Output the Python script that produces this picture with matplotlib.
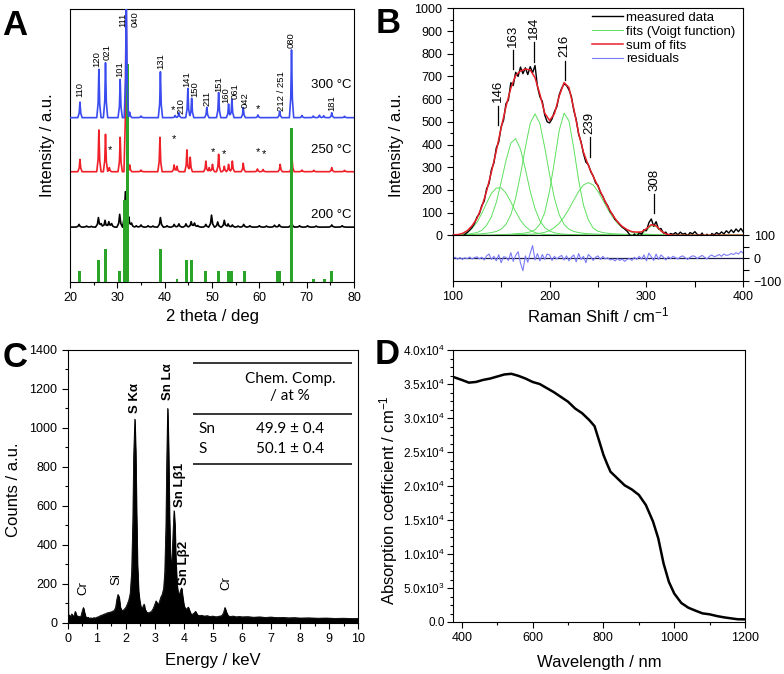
import numpy as np
import matplotlib
matplotlib.use('Agg')
import matplotlib.pyplot as plt
from matplotlib.ticker import MultipleLocator, FuncFormatter

plt.rcParams['font.family'] = ['Liberation Sans', 'DejaVu Sans']
plt.rcParams['mathtext.fontset'] = 'custom'
plt.rcParams['mathtext.rm'] = 'Liberation Sans'
plt.rcParams['mathtext.it'] = 'Liberation Sans:italic'
plt.rcParams['mathtext.bf'] = 'Liberation Sans:bold'
plt.rcParams['axes.linewidth'] = 0.8

#-------------------------------------------------------------------------------
# A : XRD patterns, peak position (deg) / height above the pattern baseline (a.u.)
xrd_300_base = 60.2
xrd_300_pos = [22.1, 26.1, 27.5, 30.6, 31.9, 32.6, 35.0, 39.1, 42.2, 43.0, 44.9, 45.7, 48.9, 51.4,
               53.5, 54.2, 56.6, 59.7, 64.3, 66.8, 69.0, 71.4, 72.7, 73.6, 75.3, 78.0]
xrd_300_int = [5.7, 17.7, 20.1, 14.0, 48.0, 2.0, 0.6, 16.8, 0.8, 1.8, 10.7, 7.1, 3.8, 9.2,
               5.0, 6.7, 3.7, 1.0, 2.4, 24.8, 0.8, 0.6, 0.9, 0.7, 1.8, 0.5]

xrd_250_base = 40.4
xrd_250_pos = [22.1, 26.1, 27.5, 28.3, 30.6, 31.85, 32.6, 35.0, 39.0, 42.0, 42.6, 44.7, 45.4, 48.7,
               49.4, 50.1, 51.4, 52.6, 53.5, 54.3, 56.6, 59.6, 60.8, 64.4, 66.9, 69.0, 71.5, 75.3, 78.0]
xrd_250_int = [4.5, 15.3, 13.7, 1.5, 12.6, 65.0, 2.5, 0.6, 12.6, 2.5, 2.0, 8.0, 5.3, 3.9,
               1.5, 2.7, 6.4, 2.0, 2.7, 3.9, 3.1, 1.0, 0.8, 2.7, 5.0, 0.6, 0.5, 1.5, 0.5]

xrd_200_base = 20.1
xrd_200_pos = [21.9, 23.5, 24.5, 26.0, 26.6, 27.4, 28.2, 28.8, 30.5, 31.7, 32.4, 33.0, 34.0, 35.0,
               36.5, 37.5, 39.1, 40.5, 42.0, 43.0, 44.5, 45.6, 46.3, 47.0, 48.7, 49.9, 51.2, 52.6,
               53.4, 54.3, 55.5, 56.7, 58.0, 60.0, 61.5, 63.2, 64.2, 66.8, 68.5, 70.2, 72.0, 75.3, 77.5]
xrd_200_int = [1.0, 0.4, 0.3, 3.5, 1.3, 2.5, 2.0, 1.3, 4.7, 13.0, 3.8, 1.5, 0.5, 0.8,
               0.5, 0.4, 3.5, 0.5, 1.0, 1.2, 1.2, 2.0, 1.5, 0.6, 1.0, 4.4, 1.9, 2.5,
               1.2, 0.8, 0.4, 1.0, 0.5, 0.5, 0.4, 0.7, 0.9, 1.8, 0.5, 0.5, 0.4, 0.8, 0.5]

# reference pattern (green bars)
ref_pos = [22.0, 26.0, 27.5, 30.4, 31.6, 32.2, 39.1, 42.6, 44.7, 45.6, 48.6, 51.3, 53.4, 54.2,
           56.8, 63.9, 64.3, 66.8, 71.4, 73.7, 75.3]
ref_int = [4.0, 8.0, 12.1, 4.0, 30.0, 80.0, 12.1, 1.0, 8.0, 8.0, 4.0, 4.0, 4.0, 4.0,
           4.0, 4.0, 4.0, 56.3, 1.0, 1.0, 4.0]

hkl_text = ['110', '120', '021', '101', '111', '040', '131', '210', '141', '150', '211', '151',
            '160', '061', '042', '212 / 251', '080', '181']
hkl_x = [22.1, 25.7, 27.8, 30.5, 31.1, 33.7, 39.2, 43.4, 44.7, 46.4, 48.9, 51.5,
         52.9, 54.8, 57.0, 64.6, 66.8, 75.3]
hkl_y = [67.9, 78.9, 81.3, 75.2, 93.3, 93.3, 78.2, 61.5, 71.5, 67.6, 64.6, 69.7,
         65.5, 66.9, 63.6, 62.8, 85.6, 62.8]

star_x = [41.7, 59.8, 28.5, 42.0, 50.1, 52.6, 59.7, 60.9]
star_y = [63.0, 63.4, 48.4, 52.3, 47.7, 46.9, 47.7, 46.9]

temp_text = ['300 °C', '250 °C', '200 °C']
temp_y = [72.2, 48.4, 24.5]

#-------------------------------------------------------------------------------
# B : Raman spectrum
raman_x = np.arange(100, 400.01, 2.5)
raman_meas = [0, -6, 2, -9, -5, 4, 12, 22, 35, 52,
              80, 94, 131, 150, 205, 228, 290, 318, 385, 410,
              478, 507, 580, 596, 672, 660, 718, 700, 741, 712,
              738, 708, 743, 716, 748, 655, 610, 590, 530, 500,
              495, 512, 545, 566, 620, 648, 667, 660, 641, 612,
              550, 510, 445, 412, 360, 322, 312, 280, 262, 231,
              220, 188, 172, 146, 131, 104, 92, 70, 61, 47,
              36, 28, 18, 4, -10, 6, -8, 12, 4, 25,
              20, 55, 72, 40, 60, 28, 30, 10, 14, -2,
              8, 4, 12, 2, 14, 5, 9, -3, 12, 6,
              16, 4, -2, 10, -10, 5, -14, 8, 2, 12,
              4, 15, 6, 20, 10, 24, 12, 28, 16, 30,
              14]
raman_resid = [-2, 4, -5, 3, -6, 2, -3, 5, -4, 2,
               6, -3, 4, -8, 10, 18, -6, 8, -12, 15,
               -20, 6, 4, -10, 24, -14, 12, 28, -22, -55,
               10, -18, 22, 55, -8, 20, -12, 16, -6, 18,
               14, -10, 8, -4, 6, 12, -8, 10, -12, 4,
               14, -16, 20, -6, 8, -20, 16, 6, -10, 4,
               10, -6, 8, -4, 2, -8, -4, -12, -2, -10,
               -4, -14, -6, -2, -10, 4, -6, 8, -4, 14,
               -12, 22, 6, -10, 18, -6, 14, 4, -8, 6,
               -2, 8, 2, -4, 6, 10, 2, -6, 4, 10,
               8, -2, 6, 12, 4, -4, 8, 14, 6, 10,
               16, 8, 18, 12, 14, 20, 16, 24, 18, 30,
               22]

# Voigt fits, sampled every 5 cm-1 from the given start
fit_x = np.arange(100, 400.01, 5)
fit_start = [100, 100, 110, 145, 165, 290]
fit_1 = [1, 2, 5, 14, 30, 57, 96, 142, 185, 208, 209, 186, 147, 104, 66, 39, 22, 12, 7, 4, 3, 2, 1, 1]
fit_2 = [1, 1, 2, 4, 8, 12, 22, 44, 82, 145, 234, 329, 406, 426, 379, 292, 194, 117, 64, 34,
         19, 11, 7, 5, 4, 3, 2, 2, 1]
fit_3 = [1, 2, 4, 5, 7, 9, 12, 17, 27, 48, 90, 164, 268, 387, 493, 535, 493, 387, 268, 164,
         90, 48, 27, 17, 12, 9, 7, 6, 5, 3, 2, 2, 1]
fit_4 = [2, 3, 4, 5, 7, 8, 10, 15, 24, 49, 100, 195, 324, 463, 538, 504, 383, 243, 133, 68,
         32, 18, 12, 9, 7, 6, 5, 4, 3, 3, 2, 2, 1]
fit_5 = [3, 3, 4, 5, 6, 9, 13, 21, 34, 53, 81, 116, 155, 193, 222, 232, 222, 193, 155, 116,
         81, 53, 34, 21, 13, 9, 6, 5, 4, 3, 2, 1]
fit_6 = [2, 7, 22, 42, 39, 18, 5, 2]

raman_labels = ['146', '163', '184', '216', '239', '308']
raman_label_x = [147, 162.6, 184.2, 215.5, 241.5, 307.8]
raman_label_y = [486, 731, 765, 684, 346, 97]

#-------------------------------------------------------------------------------
# C : EDX spectrum
edx_energy = [0.00, 0.02, 0.06, 0.10, 0.14, 0.18, 0.22, 0.26, 0.30, 0.34, 0.38, 0.42, 0.46, 0.50,
              0.54, 0.58, 0.62, 0.66, 0.70, 0.75, 0.80, 0.85, 0.90, 0.95, 1.00, 1.05, 1.10, 1.15,
              1.20, 1.25, 1.30, 1.35, 1.40, 1.45, 1.50, 1.55, 1.60, 1.65, 1.69, 1.73, 1.77, 1.81,
              1.85, 1.90, 1.95, 2.00, 2.05, 2.10, 2.15, 2.20, 2.24, 2.27, 2.31, 2.34, 2.37, 2.40,
              2.44, 2.48, 2.52, 2.56, 2.60, 2.63, 2.66, 2.70, 2.75, 2.80, 2.85, 2.90, 2.95, 3.00,
              3.04, 3.08, 3.12, 3.16, 3.20, 3.25, 3.30, 3.34, 3.38, 3.41, 3.44, 3.47, 3.50, 3.53,
              3.56, 3.59, 3.63, 3.66, 3.69, 3.72, 3.76, 3.80, 3.84, 3.88, 3.92, 3.96, 4.00, 4.05,
              4.10, 4.15, 4.20, 4.25, 4.30, 4.35, 4.40, 4.45, 4.50, 4.60, 4.70, 4.80, 4.90, 5.00,
              5.10, 5.20, 5.30, 5.36, 5.41, 5.46, 5.52, 5.60, 5.70, 5.80, 5.90, 6.00, 6.20, 6.40,
              6.60, 6.80, 7.00, 7.20, 7.40, 7.60, 7.80, 8.00, 8.30, 8.60, 8.90, 9.20, 9.50, 9.80, 10.00]
edx_counts = [690, 30, 40, 28, 45, 32, 38, 58, 40, 30, 34, 28, 36, 60,
              78, 52, 30, 26, 28, 22, 25, 22, 26, 24, 28, 30, 34, 38,
              40, 44, 46, 50, 52, 54, 55, 60, 62, 80, 120, 145, 130, 80,
              66, 62, 70, 78, 95, 115, 150, 260, 520, 860, 1045, 880, 560, 300,
              160, 110, 80, 70, 88, 95, 70, 58, 50, 52, 55, 62, 75, 95,
              112, 100, 92, 110, 130, 145, 175, 260, 500, 850, 1100, 900, 560, 360,
              290, 330, 480, 575, 500, 330, 200, 150, 145, 165, 178, 130, 90, 70,
              72, 80, 60, 42, 44, 50, 58, 44, 36, 38, 34, 36, 32, 34,
              30, 33, 36, 50, 78, 55, 35, 32, 34, 30, 32, 30, 31, 28,
              30, 27, 29, 26, 27, 25, 26, 24, 25, 23, 24, 22, 23, 21, 22]

edx_lines = ['S K\u03b1', 'Sn L\u03b1', 'Sn L\u03b21', 'Sn L\u03b22', 'Si', 'Cr', 'Cr']
edx_line_x = [2.33, 3.46, 3.86, 4.01, 1.69, 0.54, 5.45]
edx_line_y = [1078, 1143, 596, 194, 194, 142, 168]
edx_line_bold = [True, True, True, True, False, False, False]

comp_elem = ['Sn', 'S']
comp_value = ['49.9 \u00b1 0.4', '50.1 \u00b1 0.4']

#-------------------------------------------------------------------------------
# D : absorption coefficient
wavelength = [378, 400, 420, 440, 460, 480, 500, 520, 540, 560, 580, 600, 620, 640, 660, 680,
              700, 720, 740, 760, 775, 790, 800, 810, 820, 840, 860, 880, 900, 920, 940, 955,
              970, 985, 1000, 1020, 1040, 1060, 1080, 1100, 1120, 1140, 1160, 1180, 1200]
absorption = [3.60e4, 3.56e4, 3.52e4, 3.53e4, 3.56e4, 3.58e4, 3.61e4, 3.64e4, 3.65e4, 3.62e4,
              3.58e4, 3.53e4, 3.50e4, 3.44e4, 3.38e4, 3.31e4, 3.24e4, 3.14e4, 3.07e4, 2.97e4,
              2.88e4, 2.63e4, 2.46e4, 2.33e4, 2.21e4, 2.11e4, 2.01e4, 1.95e4, 1.87e4, 1.72e4,
              1.48e4, 1.23e4, 8.6e3, 5.9e3, 4.2e3, 2.8e3, 2.1e3, 1.67e3, 1.27e3, 1.13e3,
              8.8e2, 6.9e2, 5.4e2, 4.0e2, 3.9e2]

#-------------------------------------------------------------------------------
W, H = 784, 674
TICK = 9
LABEL = 12


def frac(px, py):
    return px / W, 1 - py / H


def rect(left, top, right, bottom):
    return [left / W, 1 - bottom / H, (right - left) / W, (bottom - top) / H]


def style_ticks(ax):
    ax.tick_params(which='both', direction='out', width=0.8, labelsize=TICK)
    ax.tick_params(which='major', length=4)
    ax.tick_params(which='minor', length=2.5)


def xrd_line(grid, pos, hgt, half):
    shape_x = np.array([-1.0, -0.35, 0.0, 0.35, 1.0]) * half
    shape_y = np.array([0.0, 0.3, 1.0, 0.3, 0.0])
    y = np.zeros_like(grid)
    for c, h in zip(pos, hgt):
        y += np.interp(grid, c + shape_x, shape_y * h, left=0, right=0)
    return y


def sci_label(v, pos):
    if v <= 1e-9:
        return '0.0' if abs(v) < 1e-9 else ''
    e = int(np.floor(np.log10(v)))
    return f'{v / 10**e:.1f}x10$^{{{e}}}$'


fig = plt.figure(figsize=(W / 100, H / 100), dpi=100)

#-------------------------------------------------------------------------------
# Panel A
axA = fig.add_axes(rect(70, 9, 354, 282))
grid = np.arange(20, 80.001, 0.02)
axA.plot(grid, xrd_200_base + xrd_line(grid, xrd_200_pos, xrd_200_int, 0.6), color='black', lw=1.2, zorder=2)
axA.plot(grid, xrd_250_base + xrd_line(grid, xrd_250_pos, xrd_250_int, 0.45), color='#f02028', lw=1.2, zorder=2)
axA.bar(ref_pos, ref_int, width=0.6, color='#2aa52a', zorder=3)
axA.plot(grid, xrd_300_base + xrd_line(grid, xrd_300_pos, xrd_300_int, 0.45), color='#3a4cf0', lw=1.2, zorder=4)

for t, x, y in zip(hkl_text, hkl_x, hkl_y):
    axA.text(x, y, t, rotation=90, ha='center', va='bottom', fontsize=6.8, zorder=5)
for x, y in zip(star_x, star_y):
    axA.text(x, y, '*', ha='center', va='center', fontsize=8, zorder=5)
for t, y in zip(temp_text, temp_y):
    axA.text(79.5, y, t, ha='right', va='center', fontsize=9.5, zorder=5)

axA.set_xlim(20, 80)
axA.set_ylim(0, 100)
axA.set_yticks([])
axA.xaxis.set_major_locator(MultipleLocator(10))
axA.xaxis.set_minor_locator(MultipleLocator(5))
style_ticks(axA)

#-------------------------------------------------------------------------------
# Panel B
axB = fig.add_axes(rect(452.7, 8.3, 743.3, 235.3))
axR = fig.add_axes(rect(452.7, 235.3, 743.3, 281), sharex=axB)

fits = []
for s, vals in zip(fit_start, [fit_1, fit_2, fit_3, fit_4, fit_5, fit_6]):
    full = np.zeros(len(fit_x))
    i0 = int(round((s - fit_x[0]) / 5))
    full[i0:i0 + len(vals)] = vals
    fits.append(full)
fits = np.array(fits)

h_fit = None
for f in fits:
    h_fit, = axB.plot(fit_x, f, color='#5ee05e', lw=0.7, zorder=2)
h_meas, = axB.plot(raman_x, raman_meas, color='black', lw=1.0, zorder=3, clip_on=False)
h_sum, = axB.plot(fit_x, fits.sum(axis=0), color='#e8202a', lw=1.1, zorder=4)

for t, x, y in zip(raman_labels, raman_label_x, raman_label_y):
    axB.plot([x, x], [y, y + 85], color='black', lw=0.9)
    axB.text(x, y + 100, t, rotation=90, ha='center', va='bottom', fontsize=9.5)

axB.set_xlim(100, 400)
axB.set_ylim(0, 1000)
axB.yaxis.set_major_locator(MultipleLocator(100))
axB.yaxis.set_minor_locator(MultipleLocator(50))
style_ticks(axB)
axB.tick_params(axis='x', which='both', bottom=False, labelbottom=False)

h_res, = axR.plot(raman_x, raman_resid, color='#7b7bf5', lw=0.8, zorder=2)
axR.axhline(0, color='#1c1c50', lw=0.9, zorder=1)
axR.set_ylim(-100, 100)
axR.yaxis.tick_right()
axR.yaxis.set_major_locator(MultipleLocator(100))
axR.yaxis.set_minor_locator(MultipleLocator(50))
axR.xaxis.set_major_locator(MultipleLocator(100))
axR.xaxis.set_minor_locator(MultipleLocator(50))
style_ticks(axR)
axR.tick_params(axis='x', which='minor', length=4)
axR.tick_params(axis='y', which='minor', length=4)

axB.legend([h_meas, h_fit, h_sum, h_res],
           ['measured data', 'fits (Voigt function)', 'sum of fits', 'residuals'],
           loc='upper left', bbox_to_anchor=(0.478, 0.985), frameon=False, fontsize=9.5,
           handlelength=2.4, handletextpad=0.2, labelspacing=0.12, borderpad=0, borderaxespad=0)

#-------------------------------------------------------------------------------
# Panel C
axC = fig.add_axes(rect(67.7, 350, 358.3, 622.7))
axC.fill_between(edx_energy, edx_counts, 0, color='black', lw=0.6)
axC.plot(edx_energy, edx_counts, color='black', lw=0.6)

for t, x, y, b in zip(edx_lines, edx_line_x, edx_line_y, edx_line_bold):
    axC.text(x, y, t, rotation=90, ha='center', va='bottom', fontsize=9.5,
             fontweight='bold' if b else 'normal')

# composition table
axC.hlines([1332, 1071, 815], 4.3, 9.79, color='black', lw=1.1)
axC.text(7.65, 1251, 'Chem. Comp.', ha='center', va='center', fontsize=11, family='Lato')
axC.text(7.65, 1164, '/ at %', ha='center', va='center', fontsize=11, family='Lato')
for e, v, y in zip(comp_elem, comp_value, [993, 890]):
    axC.text(4.49, y, e, ha='left', va='center', fontsize=11, family='Lato')
    axC.text(7.65, y, v, ha='center', va='center', fontsize=11, family='Lato')

axC.set_xlim(0, 10)
axC.set_ylim(0, 1400)
axC.xaxis.set_major_locator(MultipleLocator(1))
axC.xaxis.set_minor_locator(MultipleLocator(0.5))
axC.yaxis.set_major_locator(MultipleLocator(200))
axC.yaxis.set_minor_locator(MultipleLocator(100))
style_ticks(axC)

#-------------------------------------------------------------------------------
# Panel D
axD = fig.add_axes(rect(453.3, 350, 745, 622))
axD.plot(wavelength, absorption, color='black', lw=1.8)
axD.set_xlim(376, 1200)
axD.set_ylim(0, 4e4)
axD.xaxis.set_major_locator(MultipleLocator(200))
axD.xaxis.set_minor_locator(MultipleLocator(100))
axD.yaxis.set_major_locator(MultipleLocator(5000))
axD.yaxis.set_minor_locator(MultipleLocator(1250))
axD.yaxis.set_major_formatter(FuncFormatter(sci_label))
style_ticks(axD)
axD.tick_params(axis='y', labelsize=8.5, pad=2)

#-------------------------------------------------------------------------------
# panel letters and axis labels
for t, px, py in [('A', 2, 35), ('B', 376, 33), ('C', 3, 367), ('D', 375, 364)]:
    fig.text(*frac(px, py), t, fontsize=25, fontweight='bold', ha='left', va='baseline')

for t, px, py in [('2 theta / deg', 212, 316), ('Raman Shift / cm$^{-1}$', 598, 315),
                  ('Energy / keV', 213, 660), ('Wavelength / nm', 599, 662)]:
    fig.text(*frac(px, py), t, fontsize=LABEL, ha='center', va='center')

for t, px, py in [('Intensity / a.u.', 47.5, 145.5), ('Intensity / a.u.', 397, 145),
                  ('Counts / a.u.', 13.5, 490), ('Absorption coefficient / cm$^{-1}$', 389, 500)]:
    fig.text(*frac(px, py), t, fontsize=LABEL, ha='center', va='center', rotation=90)

fig.savefig('out.png', dpi=100)
